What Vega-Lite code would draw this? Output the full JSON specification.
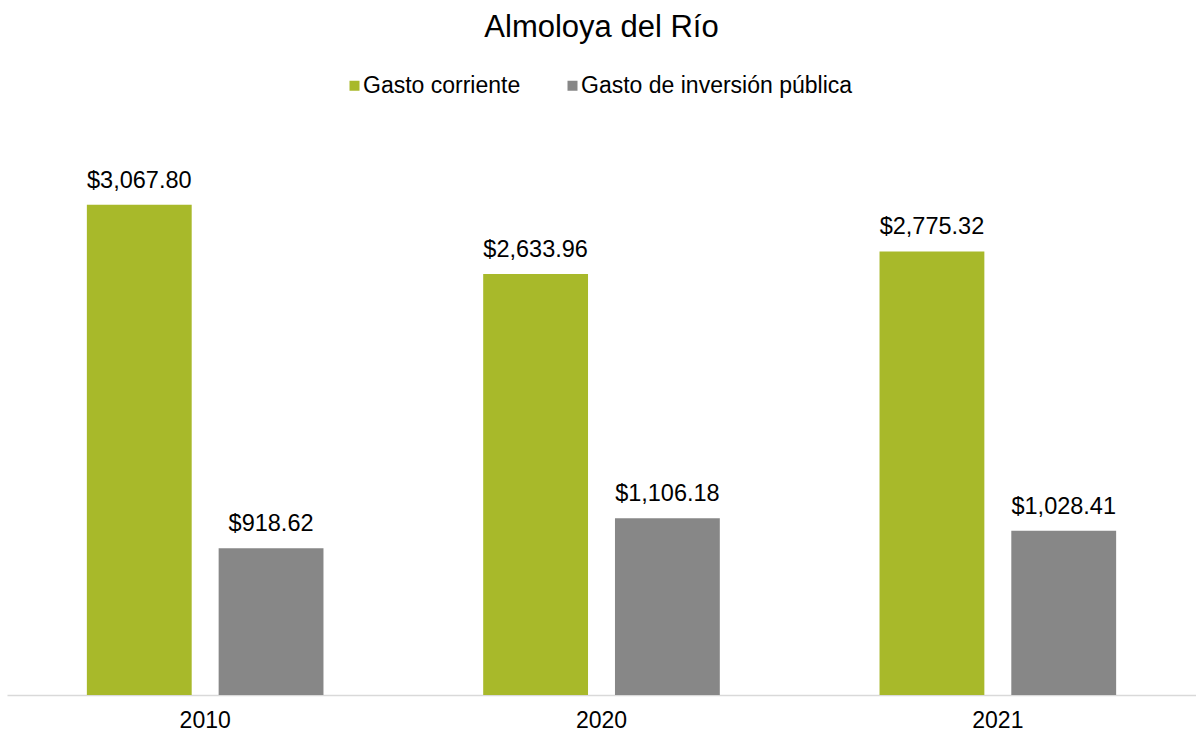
{
  "$schema": "https://vega.github.io/schema/vega-lite/v6.json",
  "width": 1189,
  "height": 560,
  "autosize": {"type": "none"},
  "padding": {"left": 7, "top": 135, "right": 0, "bottom": 39},
  "background": "white",
  "config": {
    "view": {"stroke": null},
    "font": "Liberation Sans"
  },
  "title": {
    "text": "Almoloya del Río",
    "fontSize": 31,
    "fontWeight": "normal",
    "color": "#000000",
    "anchor": "middle",
    "offset": 30
  },
  "data": {
    "values": [
      {"year": "2010", "serie": "Gasto corriente", "valor": 3067.80},
      {"year": "2010", "serie": "Gasto de inversión pública", "valor": 918.62},
      {"year": "2020", "serie": "Gasto corriente", "valor": 2633.96},
      {"year": "2020", "serie": "Gasto de inversión pública", "valor": 1106.18},
      {"year": "2021", "serie": "Gasto corriente", "valor": 2775.32},
      {"year": "2021", "serie": "Gasto de inversión pública", "valor": 1028.41}
    ]
  },
  "encoding": {
    "x": {
      "field": "year",
      "type": "nominal",
      "scale": {"paddingInner": 0, "paddingOuter": 0},
      "axis": {
        "title": null,
        "labelAngle": 0,
        "labelFontSize": 23,
        "labelColor": "#000000",
        "labelPadding": 14,
        "ticks": false,
        "domainColor": "#d9d9d9",
        "domainWidth": 1.5
      }
    },
    "xOffset": {
      "field": "serie",
      "type": "nominal",
      "scale": {"paddingInner": 0.2045, "paddingOuter": 0.606}
    },
    "y": {
      "field": "valor",
      "type": "quantitative",
      "scale": {"domain": [0, 3504], "nice": false},
      "axis": null
    }
  },
  "layer": [
    {
      "mark": {"type": "bar"},
      "encoding": {
        "color": {
          "field": "serie",
          "type": "nominal",
          "scale": {"range": ["#a8b92a", "#878787"]},
          "legend": {
            "title": null,
            "orient": "none",
            "direction": "horizontal",
            "legendX": 336,
            "legendY": -61,
            "padding": 0,
            "symbolType": "square",
            "symbolSize": 100,
            "symbolStrokeWidth": 0,
            "labelFontSize": 23,
            "labelColor": "#000000",
            "labelOffset": -3,
            "labelLimit": 500,
            "columnPadding": 40
          }
        }
      }
    },
    {
      "mark": {"type": "text", "baseline": "alphabetic", "dy": -17, "fontSize": 23.5, "color": "#000000"},
      "encoding": {
        "text": {"field": "valor", "type": "quantitative", "format": "$,.2f"}
      }
    }
  ]
}
